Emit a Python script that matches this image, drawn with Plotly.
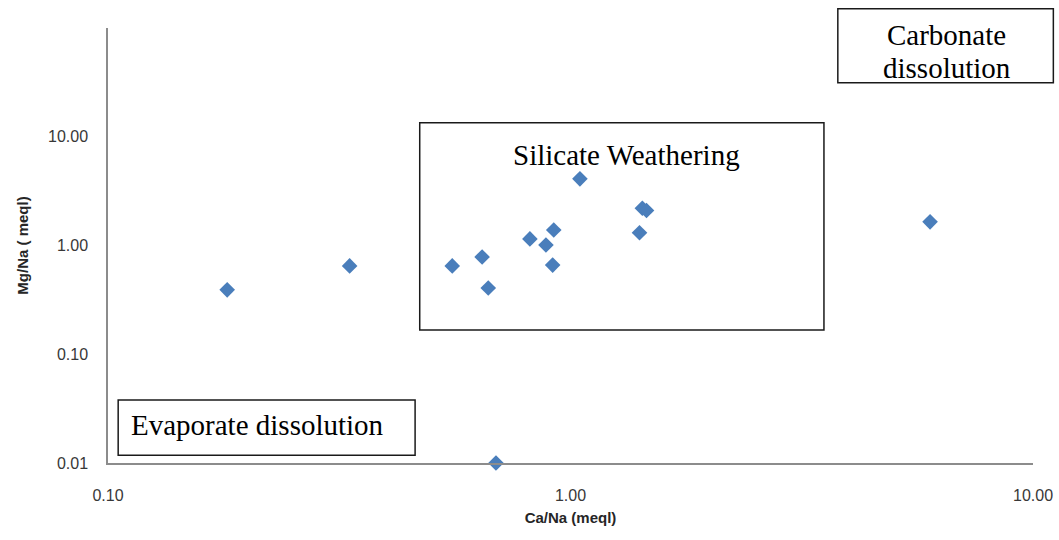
import plotly.graph_objects as go

# Ionic ratios (meq/l) for the sampled waters
ca_na = [0.181, 0.333, 0.555, 0.644, 0.664, 0.817, 0.885, 0.92, 0.915,
         1.048, 1.41, 1.43, 1.46, 5.99, 0.69]
mg_na = [0.391, 0.649, 0.649, 0.785, 0.407, 1.15, 1.01, 1.39, 0.66,
         4.10, 1.31, 2.20, 2.10, 1.65, 0.01]

x_ticks = [0.1, 1, 10]
x_tick_text = ["0.10", "1.00", "10.00"]
y_ticks = [0.01, 0.1, 1, 10]
y_tick_text = ["0.01", "0.10", "1.00", "10.00"]

fig = go.Figure()
fig.add_trace(go.Scatter(
    x=ca_na, y=mg_na, mode="markers",
    marker=dict(symbol="diamond", size=12, color="#4A7EBB",
                line=dict(width=0)),
    showlegend=False, cliponaxis=False,
))

box_line = dict(color="#1a1a1a", width=1.5)
serif = dict(family="Liberation Serif, Times New Roman, serif", size=29, color="black")

# Process-domain boxes (paper coordinates)
fig.add_shape(type="rect", xref="paper", yref="paper",
              x0=0.337, x1=0.774, y0=0.306, y1=0.782, line=box_line)
fig.add_shape(type="rect", xref="paper", yref="paper",
              x0=0.789, x1=1.022, y0=0.874, y1=1.044, line=box_line)
fig.add_shape(type="rect", xref="paper", yref="paper",
              x0=0.011, x1=0.332, y0=0.018, y1=0.145, line=box_line)

labels = [
    ("Silicate Weathering", 0.561, 0.708),
    ("Carbonate", 0.907, 0.985),
    ("dissolution", 0.907, 0.909),
    ("Evaporate dissolution", 0.162, 0.087),
]
for text, lx, ly in labels:
    fig.add_annotation(text=text, xref="paper", yref="paper", x=lx, y=ly,
                       xanchor="center", yanchor="middle",
                       showarrow=False, font=serif)

tick_font = dict(family="Liberation Sans, Arial, sans-serif", size=16, color="#383838")
title_font = dict(family="Liberation Sans, Arial, sans-serif", size=15, color="#262626")

fig.update_xaxes(
    type="log", range=[-1, 1], tickvals=x_ticks, ticktext=x_tick_text,
    showgrid=False, zeroline=False, showline=True, linecolor="#8c8c8c",
    linewidth=1.5, ticks="", tickfont=tick_font, ticklabelstandoff=17,
    automargin=False,
    title=dict(text="<b>Ca/Na (meql)</b>", font=title_font, standoff=10),
)
fig.update_yaxes(
    type="log", range=[-2, 2], tickvals=y_ticks, ticktext=y_tick_text,
    showgrid=False, zeroline=False, showline=True, linecolor="#8c8c8c",
    linewidth=1.5, ticks="", tickfont=tick_font, ticklabelstandoff=15,
    automargin=False,
    title=dict(text="<b>Mg/Na ( meql)</b>", font=title_font, standoff=16),
)

fig.update_layout(
    width=1059, height=540,
    margin=dict(l=108, r=26, t=28, b=77, autoexpand=False),
    paper_bgcolor="white", plot_bgcolor="white",
)

fig.write_html("out.html")
